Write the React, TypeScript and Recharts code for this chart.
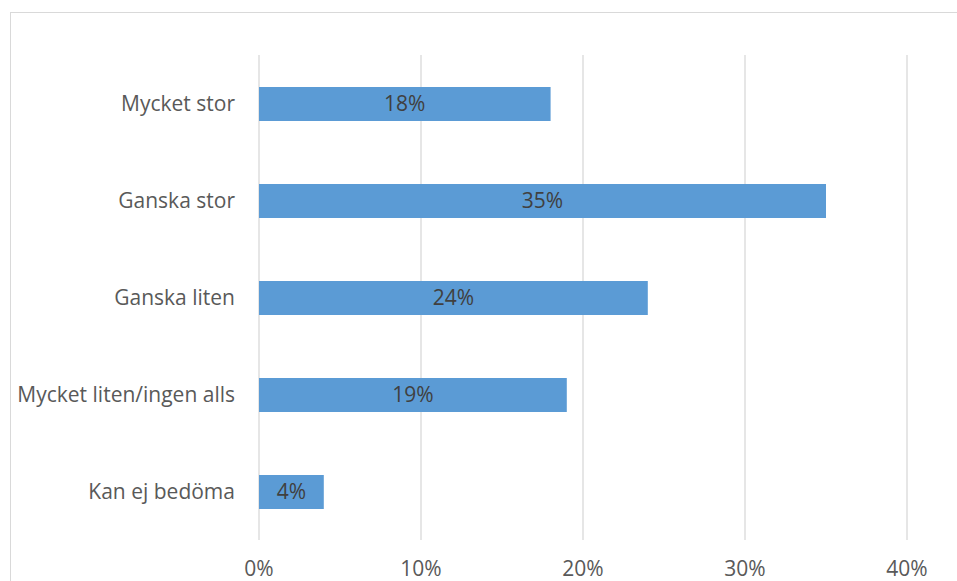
import { BarChart, Bar, XAxis, YAxis, CartesianGrid, LabelList } from 'recharts'

const categories = ['Mycket stor', 'Ganska stor', 'Ganska liten', 'Mycket liten/ingen alls', 'Kan ej bedöma']
const shares = [0.18, 0.35, 0.24, 0.19, 0.04]
const xTicks = [0, 0.1, 0.2, 0.3, 0.4]

const chartData = categories.map((name, i) => ({ name, value: shares[i] }))

const pct = (v: number) => `${Math.round(v * 100)}%`
const font = '"Open Sans", sans-serif'

export default function App() {
  return (
    <div style={{ position: 'fixed', left: 0, top: 0, width: 957, height: 581, overflow: 'hidden', background: '#fff' }}>
      <div
        style={{
          position: 'absolute',
          left: 10,
          top: 12,
          width: 980,
          height: 620,
          border: '1px solid #d9d9d9',
          boxSizing: 'border-box',
        }}
      />
      <div style={{ position: 'absolute', left: 0, top: 0 }}>
        <BarChart
          width={957}
          height={581}
          data={chartData}
          layout="vertical"
          margin={{ top: 55, right: 50, left: 0, bottom: 0 }}
          style={{ fontFamily: font }}
        >
          <CartesianGrid horizontal={false} stroke="#d9d9d9" strokeWidth={1.3} />
          <XAxis
            type="number"
            domain={[0, 0.4]}
            ticks={xTicks}
            tickFormatter={pct}
            axisLine={false}
            tickLine={false}
            tickSize={0}
            tickMargin={21}
            height={41}
            interval={0}
            tick={{ fill: '#595959', fontSize: 21 }}
          />
          <YAxis
            type="category"
            dataKey="name"
            width={259}
            axisLine={false}
            tickLine={false}
            tickSize={0}
            tickMargin={24}
            interval={0}
            tick={{ fill: '#595959', fontSize: 21 }}
          />
          <Bar dataKey="value" fill="#5b9bd5" barSize={34} isAnimationActive={false}>
            <LabelList dataKey="value" position="center" formatter={(v: any) => pct(v)} fill="#404040" fontSize={21} />
          </Bar>
        </BarChart>
      </div>
    </div>
  )
}
